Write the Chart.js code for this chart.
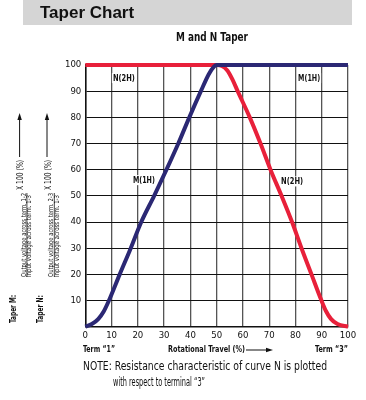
<!DOCTYPE html>
<html>
<head>
<meta charset="utf-8">
<script src="https://cdn.jsdelivr.net/npm/chart.js@4.4.1/dist/chart.umd.min.js"></script>
<style>
  html, body { margin: 0; padding: 0; background: #fff; }
  #wrap { width: 366px; height: 400px; position: relative; }
</style>
</head>
<body>
<div id="wrap"><canvas id="chart" width="366" height="400"></canvas></div>
<script>
// 回転角 (%) と出力 (%) — 図から読み取った値
const mTravel = [0, 2.5, 5, 7, 9, 13.1, 17.3, 21.3, 26.2, 30.9, 35.4, 39.6, 44, 47, 49, 50, 100];
const mOutput = [0, 1, 3, 5.8, 10, 20, 30, 40, 50, 60, 70, 80, 90, 96.5, 99.4, 100, 100];
const nTravel = [0, 50, 52, 54, 56, 58, 62.6, 66.7, 70.5, 74.7, 78.7, 82.3, 86.1, 89.9, 91.6, 93.5, 96, 100];
const nOutput = [100, 100, 99.6, 98, 94.5, 90, 80, 70, 60, 50, 40, 30, 20, 10, 6, 3, 1, 0];
const xTicks = [0, 10, 20, 30, 40, 50, 60, 70, 80, 90, 100];
const yTicks = [10, 20, 30, 40, 50, 60, 70, 80, 90, 100];

// 曲線ラベル (データ座標)
const curveLabels = [
    { text: "N(2H)", x: 14.7, y: 95 },
    { text: "M(1H)", x: 85.2, y: 95 },
    { text: "M(1H)", x: 22.3, y: 56 },
    { text: "N(2H)", x: 78.7, y: 55.5 },
];

const NARROW = '"Liberation Sans Narrow", "Arial Narrow", "DejaVu Sans Condensed", sans-serif';
const NAVY = "#2b2874";
const RED = "#e8203a";

const toPoints = (xs, ys) => xs.map((x, i) => ({ x: x, y: ys[i] }));

// テキスト描画ヘルパー (maxWidthで横幅を合わせる)
function text(ctx, str, x, y, font, maxW, align = "left") {
    ctx.font = font;
    ctx.textAlign = align;
    ctx.textBaseline = "middle";
    ctx.fillText(str, x, y, maxW);
}

// 縦書き (下から上へ)
function vtext(ctx, str, cx, yBottom, font, maxW) {
    ctx.save();
    ctx.translate(cx, yBottom);
    ctx.rotate(-Math.PI / 2);
    text(ctx, str, 0, 0, font, maxW);
    ctx.restore();
}

function arrowUp(ctx, x, yFrom, yTip) {
    ctx.beginPath();
    ctx.moveTo(x, yFrom);
    ctx.lineTo(x, yTip + 4);
    ctx.lineWidth = 1;
    ctx.stroke();
    ctx.beginPath();
    ctx.moveTo(x, yTip);
    ctx.lineTo(x - 2.2, yTip + 7);
    ctx.lineTo(x + 2.2, yTip + 7);
    ctx.closePath();
    ctx.fill();
}

function arrowRight(ctx, xFrom, xTip, y) {
    ctx.beginPath();
    ctx.moveTo(xFrom, y);
    ctx.lineTo(xTip - 4, y);
    ctx.lineWidth = 1;
    ctx.stroke();
    ctx.beginPath();
    ctx.moveTo(xTip, y);
    ctx.lineTo(xTip - 7, y - 2.2);
    ctx.lineTo(xTip - 7, y + 2.2);
    ctx.closePath();
    ctx.fill();
}

// 見出し・軸説明・注記を描くプラグイン
const decorPlugin = {
    id: "decor",
    beforeDraw(chart) {
        const ctx = chart.ctx;
        ctx.save();
        ctx.fillStyle = "#d5d5d5";
        ctx.fillRect(23, 0, 329, 25);
        ctx.fillStyle = "#111";
        text(ctx, "Taper Chart", 40, 13.5, 'bold 17px "Liberation Sans", Arial, sans-serif', 100);
        text(ctx, "M and N Taper", 212, 38, "bold 13px " + NARROW, 72, "center");
        ctx.restore();
    },
    afterDraw(chart) {
        const ctx = chart.ctx;
        const xs = chart.scales.x, ys = chart.scales.y;
        ctx.save();
        ctx.fillStyle = "#111";
        ctx.strokeStyle = "#111";

        // 曲線ラベル
        curveLabels.forEach(l => {
            const px = xs.getPixelForValue(l.x), py = ys.getPixelForValue(l.y);
            ctx.font = "bold 9.5px " + NARROW;
            const w = Math.min(ctx.measureText(l.text).width, 22);
            ctx.fillStyle = "#fff";
            ctx.fillRect(px - w / 2 - 1, py - 5, w + 2, 10);
            ctx.fillStyle = "#111";
            text(ctx, l.text, px, py, "bold 9.5px " + NARROW, 22, "center");
        });

        // 左側の縦書き説明
        const groups = [
            { name: "Taper M:", num: "Output voltage across term. 1-2", x: 13.3 },
            { name: "Taper N:", num: "Output voltage across term. 2-3", x: 40.7 },
        ];
        groups.forEach(g => {
            vtext(ctx, g.name, g.x, 323, "bold 8.5px " + NARROW, 28);
            vtext(ctx, g.num, g.x + 10.7, 277, "6.9px " + NARROW, 84);
            vtext(ctx, "Input voltage across term. 1-3", g.x + 16.3, 277, "6.9px " + NARROW, 82);
            ctx.beginPath();
            ctx.moveTo(g.x + 13.6, 277);
            ctx.lineTo(g.x + 13.6, 193);
            ctx.lineWidth = 0.8;
            ctx.stroke();
            vtext(ctx, "X 100 (%)", g.x + 8, 190, "8px " + NARROW, 30);
            arrowUp(ctx, g.x + 6.3, 157, 113);
        });

        // 下側のラベル
        text(ctx, "Term \u201c1\u201d", 83, 350, "bold 9px " + NARROW, 32);
        text(ctx, "Rotational Travel (%)", 168, 350, "bold 9px " + NARROW, 77);
        arrowRight(ctx, 246, 273, 350);
        text(ctx, "Term \u201c3\u201d", 315, 350, "bold 9px " + NARROW, 33);

        // 注記
        text(ctx, "NOTE: Resistance characteristic of curve N is plotted", 83, 367, "11.5px " + NARROW, 244);
        text(ctx, "with respect to terminal \u201c3\u201d", 113, 383, "11.5px " + NARROW, 92);
        ctx.restore();
    },
};

new Chart(document.getElementById("chart").getContext("2d"), {
    type: "line",
    data: {
        datasets: [
            {
                label: "M(1H)",
                data: toPoints(mTravel, mOutput),
                borderColor: NAVY,
                borderWidth: 4,
                pointRadius: 0,
                cubicInterpolationMode: "monotone",
                fill: false,
                clip: 5,
            },
            {
                label: "N(2H)",
                data: toPoints(nTravel, nOutput),
                borderColor: RED,
                borderWidth: 4,
                pointRadius: 0,
                cubicInterpolationMode: "monotone",
                fill: false,
                clip: 5,
            },
        ],
    },
    options: {
        responsive: false,
        animation: false,
        layout: { padding: { left: 45.3, top: 65, right: 18, bottom: 53.3 } },
        plugins: {
            legend: { display: false },
            tooltip: { enabled: false },
        },
        scales: {
            x: {
                type: "linear",
                min: 0,
                max: 100,
                afterFit: s => { s.height = 20; },
                afterBuildTicks: s => { s.ticks = xTicks.map(v => ({ value: v })); },
                ticks: { padding: 3, color: "#111", font: { family: NARROW, size: 9.5 } },
                grid: { color: "#555", lineWidth: 1.3, drawTicks: false },
                border: { color: "#111", width: 1.5 },
            },
            y: {
                min: 0,
                max: 100,
                afterFit: s => { s.width = 40; },
                afterBuildTicks: s => { s.ticks = [0].concat(yTicks).map(v => ({ value: v })); },
                ticks: {
                    padding: 4,
                    color: "#111",
                    font: { family: NARROW, size: 9.5 },
                    callback: v => (v === 0 ? "" : v),
                },
                grid: { color: "#111", lineWidth: 1, drawTicks: false },
                border: { color: "#111", width: 1.5 },
            },
        },
    },
    plugins: [decorPlugin],
});
</script>
</body>
</html>
